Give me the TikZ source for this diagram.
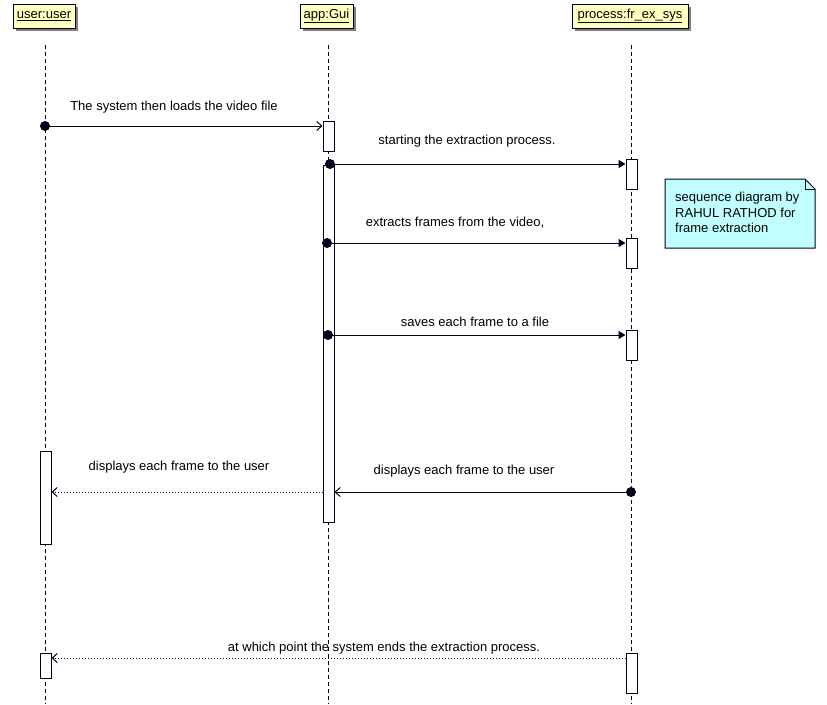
\documentclass[tikz,border=0pt]{standalone}
\usepackage{fontspec}
\setmainfont{Liberation Sans}
\usetikzlibrary{arrows.meta,shadows}
\definecolor{ln}{HTML}{000018}
\definecolor{hdr}{HTML}{FFFFC0}
\definecolor{nt}{HTML}{C0FFFF}
\tikzset{
  hdrbox/.style={draw=ln, fill=hdr, line width=1pt, inner sep=0pt, minimum height=24pt,
    font=\fontsize{13}{15}\selectfont,
    drop shadow={shadow xshift=3pt, shadow yshift=-3pt, fill=black!50, opacity=1}},
  lifeline/.style={draw=ln, line width=1pt, dash pattern=on 4pt off 3pt},
  actbox/.style={draw=ln, fill=white, line width=1pt, minimum width=11pt, inner sep=0pt},
  lbl/.style={font=\fontsize{13}{15}\selectfont, inner sep=0pt},
  sync/.style={draw=ln, line width=1pt, -{Triangle[length=7pt,width=8pt]}},
  callmsg/.style={draw=ln, line width=1pt, -{Straight Barb[length=5pt,width=9pt]}},
  retmsg/.style={draw=ln, line width=1pt, dash pattern=on 1pt off 2pt, -{Straight Barb[length=5pt,width=9pt,line width=1pt]}},
  dotstart/.style={fill=ln, circle, inner sep=0pt, minimum size=10pt},
}
\begin{document}
\begin{tikzpicture}[x=1pt,y=-1pt]
\useasboundingbox (0,0) rectangle (827,704);
\fill[white] (0,0) rectangle (827,704);

% headers
\node[hdrbox, minimum width=62pt] (uH) at (44,16) {\underline{user:user}};
\node[hdrbox, minimum width=53pt] (gH) at (326.5,16) {\underline{app:Gui}};
\node[hdrbox, minimum width=116pt] (pH) at (630,16) {\underline{process:fr\_ex\_sys}};

% lifelines
\coordinate (uT) at (45,45);  \coordinate (uB) at (45,704);
\coordinate (gT) at (328,45); \coordinate (gB) at (328,704);
\coordinate (pT) at (631,45); \coordinate (pB) at (631,704);
\draw[lifeline] (uT) -- (uB);
\draw[lifeline] (gT) -- (gB);
\draw[lifeline] (pT) -- (pB);

% activations
\node[actbox, minimum height=30pt] (aG1) at (328.5,136) {};
\node[actbox, minimum height=357pt] (aG2) at (328.5,343.5) {};
\node[actbox, minimum height=30pt] (aP1) at (631.5,174) {};
\node[actbox, minimum height=30pt] (aP2) at (631.5,253) {};
\node[actbox, minimum height=30pt] (aP3) at (631.5,345) {};
\node[actbox, minimum height=40pt] (aP4) at (631.5,673) {};
\node[actbox, minimum height=93pt] (aU1) at (45.5,497.5) {};
\node[actbox, minimum height=25pt] (aU2) at (45.5,665.5) {};

% message start points
\node[dotstart] (d1) at (45,126) {};
\node[dotstart] (d2) at (330,164) {};
\node[dotstart] (d3) at (327,243) {};
\node[dotstart] (d4) at (328,335) {};
\node[dotstart] (d5) at (631,492) {};
\coordinate (r6) at (aG2.west |- d5);
\coordinate (r7) at (626,658);

% messages
\draw[callmsg] (d1.center) -- (aG1.west |- d1);
\draw[sync] (d2.center) -- (aP1.west |- d2);
\draw[sync] (d3.center) -- (aP2.west |- d3);
\draw[sync] (d4.center) -- (aP3.west |- d4);
\draw[callmsg] (d5.center) -- (aG2.east |- d5);
\draw[retmsg] (r6) -- (aU1.east |- r6);
\draw[retmsg] (r7) -- (aU2.east |- r7);

% labels
\node[lbl] (l1) at (174,107) {The system then loads the video file};
\node[lbl] (l2) at (467,141) {starting the extraction process.};
\node[lbl] (l3) at (455,223) {extracts frames from the video,};
\node[lbl] (l4) at (475,322) {saves each frame to a file};
\node[lbl] (l5) at (464,471) {displays each frame to the user};
\node[lbl] (l6) at (179,467) {displays each frame to the user};
\node[lbl] (l7) at (384,648) {at which point the system ends the extraction process.};

% note
\draw[draw=ln, fill=nt, line width=1pt] (665,179) -- (805,179) -- (815,189) -- (815,248) -- (665,248) -- cycle;
\draw[draw=ln, line width=1pt] (805,179) -- (805,189) -- (815,189);
\node[lbl, anchor=north west, align=left, font=\fontsize{13}{15.5}\selectfont] (note) at (675,192)
  {sequence diagram by\\RAHUL RATHOD for\\frame extraction};
\end{tikzpicture}
\end{document}
